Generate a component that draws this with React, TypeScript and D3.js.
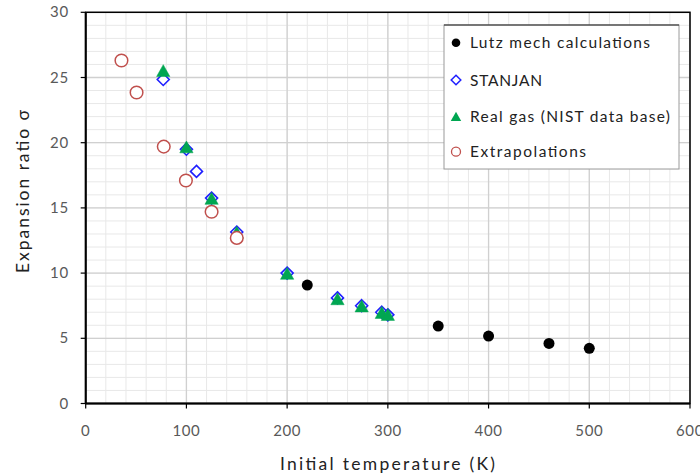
import React from "react";
import * as d3 from "d3";

const lutzT = [220, 350, 400, 460, 500];
const lutzS = [9.08, 5.94, 5.17, 4.61, 4.23];

const stanjanT = [77, 100, 110, 125, 150, 200, 250, 274, 294, 300];
const stanjanS = [24.85, 19.5, 17.8, 15.75, 13.15, 10.0, 8.1, 7.5, 7.0, 6.8];

const realGasT = [77, 100, 125, 150, 200, 250, 274, 294, 300];
const realGasS = [25.45, 19.6, 15.65, 13.05, 9.9, 7.95, 7.4, 6.9, 6.75];

const extrapT = [35.5, 50.5, 77.5, 99.5, 125, 150];
const extrapS = [26.3, 23.85, 19.7, 17.1, 14.7, 12.7];

const xTicks = [0, 100, 200, 300, 400, 500, 600];
const yTicks = [0, 5, 10, 15, 20, 25, 30];

const legendLabels = [
  "Lutz mech calculations",
  "STANJAN",
  "Real gas (NIST data base)",
  "Extrapolations",
];
const legendWidths = [180, 72, 200, 116];

const FONT = "Lato, 'Open Sans', sans-serif";

export default function App() {
  const W = 700;
  const H = 475;
  const left = 85.7;
  const right = 690;
  const top = 12.3;
  const bottom = 403.5;

  const x = d3.scaleLinear().domain([0, 600]).range([left, right]);
  const y = d3.scaleLinear().domain([0, 30]).range([bottom, top]);

  const xMinor = d3.range(0, 601, 20);
  const yMinor = d3.range(0, 31, 1);

  const diamond = (cx: number, cy: number, r: number) =>
    `M${cx},${cy - r}L${cx + r},${cy}L${cx},${cy + r}L${cx - r},${cy}Z`;
  const tri = (cx: number, cy: number, r: number) =>
    `M${cx},${cy - r}L${cx + r * 0.95},${cy + r * 0.7}L${cx - r * 0.95},${cy + r * 0.7}Z`;

  const colors = {
    lutz: "#000000",
    stanjan: "#1f1fff",
    real: "#00a651",
    extrap: "#c0504d",
  };

  const drawMarker = (kind: number, cx: number, cy: number, key: string) => {
    if (kind === 0)
      return <circle key={key} cx={cx} cy={cy} r={5.5} fill={colors.lutz} />;
    if (kind === 1)
      return (
        <path key={key} d={diamond(cx, cy, 6)} fill="white" stroke={colors.stanjan} strokeWidth={1.6} />
      );
    if (kind === 2)
      return <path key={key} d={tri(cx, cy, 7)} fill={colors.real} stroke={colors.real} strokeWidth={0.5} />;
    return (
      <circle key={key} cx={cx} cy={cy} r={6.3} fill="white" stroke={colors.extrap} strokeWidth={1.5} />
    );
  };

  const lgX = 444;
  const lgY = 25;
  const lgW = 235;
  const lgH = 144;
  const lgRows = [42.7, 80, 116.7, 151.7];

  return (
    <svg
      width={W}
      height={H}
      style={{ position: "absolute", left: 0, top: 0, background: "white" }}
      fontFamily={FONT}
    >
      <rect x={0} y={0} width={W} height={H} fill="white" />
      {xMinor.map((v) => (
        <line key={"xm" + v} x1={x(v)} x2={x(v)} y1={top} y2={bottom} stroke="#e8e8e8" strokeWidth={1} />
      ))}
      {yMinor.map((v) => (
        <line key={"ym" + v} x1={left} x2={right} y1={y(v)} y2={y(v)} stroke="#e8e8e8" strokeWidth={1} />
      ))}
      {xTicks.map((v) => (
        <line key={"xM" + v} x1={x(v)} x2={x(v)} y1={top} y2={bottom} stroke="#d0d0d0" strokeWidth={1.3} />
      ))}
      {yTicks.map((v) => (
        <line key={"yM" + v} x1={left} x2={right} y1={y(v)} y2={y(v)} stroke="#d0d0d0" strokeWidth={1.3} />
      ))}
      <rect x={left} y={top} width={right - left} height={bottom - top} fill="none" stroke="#000" strokeWidth={1.5} />
      <line x1={left} x2={right} y1={bottom} y2={bottom} stroke="#000" strokeWidth={2} />
      <line x1={left} x2={left} y1={top} y2={bottom} stroke="#000" strokeWidth={2} />
      {xTicks.map((v) => (
        <g key={"xt" + v}>
          <line x1={x(v)} x2={x(v)} y1={bottom} y2={bottom + 5} stroke="#000" strokeWidth={1.2} />
          <text x={x(v)} y={bottom + 32} textAnchor="middle" fontSize={15} letterSpacing={0.6} fill="#595959">
            {v}
          </text>
        </g>
      ))}
      {yTicks.map((v) => (
        <g key={"yt" + v}>
          <line x1={left - 5} x2={left} y1={y(v)} y2={y(v)} stroke="#000" strokeWidth={1.2} />
          <text x={left - 17} y={y(v) + 5} textAnchor="end" fontSize={15} letterSpacing={0.6} fill="#595959">
            {v}
          </text>
        </g>
      ))}
      <text x={387.5} y={470} textAnchor="middle" fontSize={17.5} fill="#222" textLength={215} lengthAdjust="spacing">
        Initial temperature (K)
      </text>
      <text
        transform={`translate(29,191.5) rotate(-90)`}
        textAnchor="middle"
        fontSize={17.5}
        fill="#222"
        textLength={163}
        lengthAdjust="spacing"
      >
        Expansion ratio σ
      </text>
      {lutzT.map((t, i) => drawMarker(0, x(t), y(lutzS[i]), "l" + i))}
      {stanjanT.map((t, i) => drawMarker(1, x(t), y(stanjanS[i]), "s" + i))}
      {realGasT.map((t, i) => drawMarker(2, x(t), y(realGasS[i]), "r" + i))}
      {extrapT.map((t, i) => drawMarker(3, x(t), y(extrapS[i]), "e" + i))}
      <rect x={lgX} y={lgY} width={lgW} height={lgH} fill="white" stroke="#9a9a9a" strokeWidth={1} />
      <line x1={lgX} x2={lgX + lgW} y1={lgY} y2={lgY} stroke="#222" strokeWidth={1.2} />
      {legendLabels.map((lab, i) => (
        <g key={"lg" + i}>
          {i === 0 && <circle cx={456} cy={lgRows[i]} r={4.3} fill={colors.lutz} />}
          {i === 1 && <path d={diamond(456, lgRows[i], 4.8)} fill="white" stroke={colors.stanjan} strokeWidth={1.5} />}
          {i === 2 && <path d={tri(456, lgRows[i] + 0.5, 5.5)} fill={colors.real} />}
          {i === 3 && <circle cx={456} cy={lgRows[i]} r={4.5} fill="white" stroke={colors.extrap} strokeWidth={1.3} />}
          <text
            x={470}
            y={lgRows[i] + 5.5}
            fontSize={15.5}
            fill="#222"
            textLength={legendWidths[i]}
            lengthAdjust="spacing"
          >
            {lab}
          </text>
        </g>
      ))}
    </svg>
  );
}
